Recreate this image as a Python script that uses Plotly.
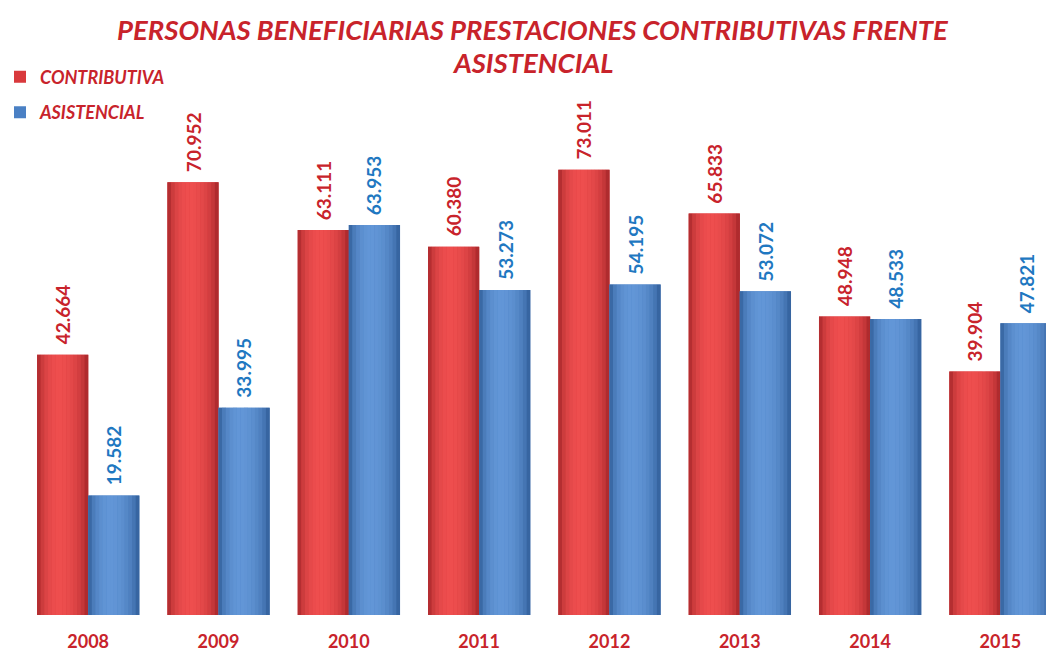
import plotly.graph_objects as go

years = ["2008", "2009", "2010", "2011", "2012", "2013", "2014", "2015"]
contributiva = [42664, 70952, 63111, 60380, 73011, 65833, 48948, 39904]
asistencial = [19582, 33995, 63953, 53273, 54195, 53072, 48533, 47821]
title_lines = ["PERSONAS BENEFICIARIAS PRESTACIONES CONTRIBUTIVAS FRENTE", "ASISTENCIAL"]

RED_TXT = "#c8232b"
BLUE_TXT = "#1f78c1"
BAR_W = 0.392
N_STRIPS = 14


def mix(c1, c2, t):
    return "#%02x%02x%02x" % tuple(int(round(a + (b - a) * t)) for a, b in zip(c1, c2))


def cyl_profile(u):
    peak = 0.42
    d = (u - peak) / (peak if u < peak else (1 - peak))
    return max(0.0, 1 - d * d) ** 0.6


x_idx = list(range(len(years)))
fig = go.Figure()

series = [
    ("CONTRIBUTIVA", contributiva, -BAR_W, (150, 30, 34), (238, 78, 78), "#d9393c", RED_TXT),
    ("ASISTENCIAL", asistencial, 0.0, (38, 82, 140), (98, 150, 215), "#4a80c4", BLUE_TXT),
]

for name, vals, off, dark, light, base, txtc in series:
    fig.add_trace(go.Bar(
        x=x_idx, y=vals, name=name, offset=off, width=BAR_W,
        marker=dict(color=base, line=dict(width=0)), showlegend=True,
        legendgroup=name, hoverinfo="skip"))
    sw = BAR_W / N_STRIPS
    for k in range(N_STRIPS):
        u = (k + 0.5) / N_STRIPS
        fig.add_trace(go.Bar(
            x=x_idx, y=vals, offset=off + k * sw, width=sw * 1.05,
            marker=dict(color=mix(dark, light, cyl_profile(u)), line=dict(width=0)),
            showlegend=False, legendgroup=name, hoverinfo="skip"))

annotations = []
for name, vals, off, dark, light, base, txtc in series:
    for i, v in enumerate(vals):
        annotations.append(dict(
            x=i + off + BAR_W / 2, y=v, xref="x", yref="y",
            text=f"<b>{v:,}</b>".replace(",", "."), textangle=-90,
            showarrow=False, yanchor="bottom", xanchor="center", yshift=8,
            font=dict(family="Lato", size=19, color=txtc)))

for line, ypos in zip(title_lines, [1.0656, 1.0055]):
    annotations.append(dict(
        x=0.499, y=ypos, xref="paper", yref="paper", showarrow=False,
        text=f"<b><i>{line}</i></b>", xanchor="center", yanchor="middle",
        font=dict(family="Lato", size=27.5, color=RED_TXT)))

fig.update_layout(
    width=1046, height=651,
    barmode="overlay",
    plot_bgcolor="white", paper_bgcolor="white",
    margin=dict(l=23, r=0, t=66, b=36, autoexpand=False),
    legend=dict(
        xref="container", yref="container", x=0.0, y=0.91, xanchor="left", yanchor="top",
        font=dict(family="Lato", size=18, color=RED_TXT, style="italic", weight="bold"),
        tracegroupgap=9, traceorder="grouped", bgcolor="rgba(0,0,0,0)",
        itemwidth=30),
    xaxis=dict(
        tickmode="array", tickvals=x_idx, ticktext=years,
        range=[-0.5, 7.35], showgrid=False, zeroline=False, showline=False, ticks="",
        ticklabelstandoff=14,
        tickfont=dict(family="Lato", size=18, color=RED_TXT, weight="bold")),
    yaxis=dict(range=[0, 90000], visible=False, showgrid=False),
    annotations=annotations,
    showlegend=True,
)

fig.write_html("out.html", config={"displayModeBar": False},
               post_script="document.body.style.margin='0';")
